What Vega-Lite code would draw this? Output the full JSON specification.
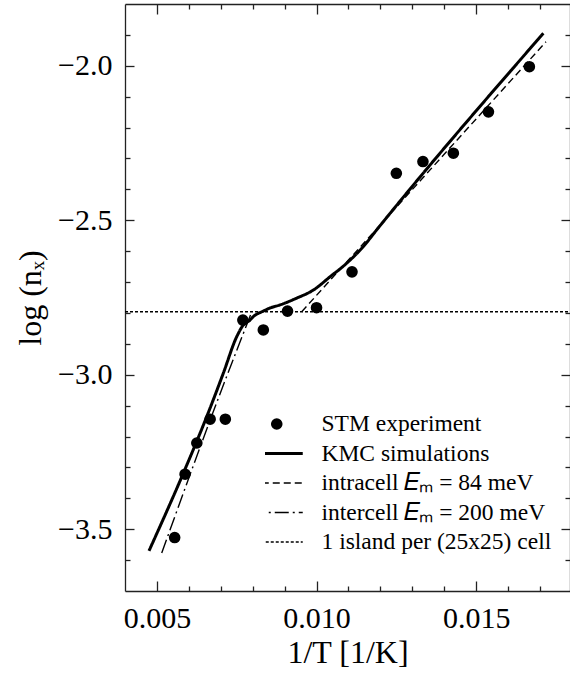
{
  "$schema": "https://vega.github.io/schema/vega-lite/v6.json",
  "width": 445,
  "height": 587,
  "autosize": {"type": "none"},
  "padding": {"left": 125, "top": 4, "right": 0, "bottom": 86},
  "background": "white",
  "config": {
    "font": "Liberation Serif",
    "view": {"stroke": null},
    "axis": {
      "grid": false,
      "domainColor": "#222",
      "tickColor": "#222",
      "domainWidth": 1.3,
      "tickWidth": 1.3,
      "labelColor": "black",
      "titleColor": "black",
      "labelFont": "Liberation Serif",
      "titleFont": "Liberation Serif",
      "labelFontSize": 30,
      "titleFontSize": 32,
      "titleFontWeight": "normal"
    }
  },
  "datasets": {
    "stm": [
      {"x": 0.005556, "y": -3.527},
      {"x": 0.005882, "y": -3.322},
      {"x": 0.00625, "y": -3.221},
      {"x": 0.006667, "y": -3.144},
      {"x": 0.007143, "y": -3.144},
      {"x": 0.007692, "y": -2.823},
      {"x": 0.008333, "y": -2.855},
      {"x": 0.009091, "y": -2.794},
      {"x": 0.01, "y": -2.783},
      {"x": 0.011111, "y": -2.667},
      {"x": 0.0125, "y": -2.348},
      {"x": 0.013333, "y": -2.31},
      {"x": 0.014286, "y": -2.283},
      {"x": 0.015385, "y": -2.149},
      {"x": 0.016667, "y": -2.003}
    ],
    "curves": [
      {"series": "KMC simulations", "x": 0.004752, "y": -3.57},
      {"series": "KMC simulations", "x": 0.005826, "y": -3.319},
      {"series": "KMC simulations", "x": 0.006559, "y": -3.136},
      {"series": "KMC simulations", "x": 0.00708, "y": -2.995},
      {"series": "KMC simulations", "x": 0.007499, "y": -2.877},
      {"series": "KMC simulations", "x": 0.007706, "y": -2.839},
      {"series": "KMC simulations", "x": 0.007916, "y": -2.823},
      {"series": "KMC simulations", "x": 0.008019, "y": -2.812},
      {"series": "KMC simulations", "x": 0.008333, "y": -2.794},
      {"series": "KMC simulations", "x": 0.008543, "y": -2.784},
      {"series": "KMC simulations", "x": 0.008856, "y": -2.774},
      {"series": "KMC simulations", "x": 0.009379, "y": -2.752},
      {"series": "KMC simulations", "x": 0.009899, "y": -2.726},
      {"series": "KMC simulations", "x": 0.010422, "y": -2.683},
      {"series": "KMC simulations", "x": 0.010945, "y": -2.639},
      {"series": "KMC simulations", "x": 0.011466, "y": -2.585},
      {"series": "KMC simulations", "x": 0.011885, "y": -2.531},
      {"series": "KMC simulations", "x": 0.017105, "y": -1.895},
      {"series": "intracell 𝐸ₘ = 84 meV", "x": 0.009536, "y": -2.796},
      {"series": "intracell 𝐸ₘ = 84 meV", "x": 0.017189, "y": -1.922},
      {"series": "intercell 𝐸ₘ = 200 meV", "x": 0.00515, "y": -3.577},
      {"series": "intercell 𝐸ₘ = 200 meV", "x": 0.006976, "y": -3.062},
      {"series": "intercell 𝐸ₘ = 200 meV", "x": 0.007969, "y": -2.797},
      {"series": "1 island per (25x25) cell", "x": 0.004, "y": -2.796},
      {"series": "1 island per (25x25) cell", "x": 0.01794, "y": -2.796}
    ]
  },
  "resolve": {"axis": {"x": "independent", "y": "independent"}},
  "layer": [
    {
      "data": {"name": "stm"},
      "mark": {"type": "point", "shape": "circle", "filled": true, "size": 135, "color": "black", "opacity": 1},
      "encoding": {
        "x": {
          "field": "x", "type": "quantitative",
          "scale": {"domain": [0.004, 0.01794], "nice": false, "zero": false},
          "axis": {"orient": "bottom", "values": [0.005, 0.01, 0.015], "format": ".3f", "tickSize": -10, "labelPadding": 22, "title": "1/T [1/K]", "titlePadding": 4}
        },
        "y": {
          "field": "y", "type": "quantitative",
          "scale": {"domain": [-3.7, -1.8], "nice": false, "zero": false},
          "axis": {"orient": "left", "values": [-3.5, -3, -2.5, -2], "format": ".1f", "tickSize": -9, "labelPadding": 22, "title": "log (nₓ)", "titlePadding": 10}
        }
      }
    },
    {
      "data": {"name": "curves"},
      "mark": {"type": "line", "color": "black", "interpolate": "monotone"},
      "encoding": {
        "x": {
          "field": "x", "type": "quantitative",
          "scale": {"domain": [0.004, 0.01794], "nice": false, "zero": false},
          "axis": {"orient": "bottom", "values": [0.006, 0.007, 0.008, 0.009, 0.011, 0.012, 0.013, 0.014, 0.016, 0.017], "tickSize": -5, "labels": false, "domain": false, "title": null}
        },
        "y": {
          "field": "y", "type": "quantitative",
          "scale": {"domain": [-3.7, -1.8], "nice": false, "zero": false},
          "axis": {"orient": "left", "values": [-3.6, -3.4, -3.3, -3.2, -3.1, -2.9, -2.8, -2.7, -2.6, -2.4, -2.3, -2.2, -2.1, -1.9], "tickSize": -5, "labels": false, "domain": false, "title": null}
        },
        "strokeDash": {
          "field": "series", "type": "nominal",
          "scale": {
            "domain": ["STM experiment", "KMC simulations", "intracell 𝐸ₘ = 84 meV", "intercell 𝐸ₘ = 200 meV", "1 island per (25x25) cell"],
            "range": [[1, 0], [1, 0], [7, 4], [14, 4, 2, 4], [3, 2]]
          },
          "legend": {
            "title": null,
            "orient": "none",
            "legendX": 140,
            "legendY": 408,
            "padding": 0,
            "symbolType": "stroke",
            "symbolSize": 2704,
            "clipHeight": 24,
            "rowPadding": 5.5,
            "labelOffset": 33,
            "labelFont": "Liberation Serif",
            "labelFontSize": 23.5,
            "labelColor": "black",
            "labelLimit": 400,
            "symbolStrokeColor": "black",
            "symbolStrokeWidth": 1.4,
            "encode": {
              "symbols": {
                "update": {
                  "shape": {"signal": "datum.value === 'STM experiment' ? 'circle' : 'stroke'"},
                  "size": {"signal": "datum.value === 'STM experiment' ? 135 : 2704"},
                  "fill": {"signal": "datum.value === 'STM experiment' ? 'black' : 'transparent'"},
                  "stroke": {"value": "black"},
                  "strokeWidth": {"signal": "datum.value === 'KMC simulations' ? 3 : (datum.value === 'STM experiment' ? 0 : 1.4)"}
                }
              }
            }
          }
        },
        "strokeWidth": {
          "condition": {"test": "datum.series === 'KMC simulations'", "value": 3},
          "value": 1.4
        }
      }
    },
    {
      "data": {"name": "stm"},
      "mark": {"type": "point", "opacity": 0},
      "encoding": {
        "x": {
          "field": "x", "type": "quantitative",
          "scale": {"domain": [0.004, 0.01794], "nice": false, "zero": false},
          "axis": {"orient": "top", "values": [0.005, 0.01, 0.015], "tickSize": -10, "labels": false, "title": null}
        },
        "y": {
          "field": "y", "type": "quantitative",
          "scale": {"domain": [-3.7, -1.8], "nice": false, "zero": false},
          "axis": {"orient": "right", "values": [-3.5, -3, -2.5, -2], "tickSize": -9, "labels": false, "title": null}
        }
      }
    },
    {
      "data": {"name": "stm"},
      "mark": {"type": "point", "opacity": 0},
      "encoding": {
        "x": {
          "field": "x", "type": "quantitative",
          "scale": {"domain": [0.004, 0.01794], "nice": false, "zero": false},
          "axis": {"orient": "top", "values": [0.006, 0.007, 0.008, 0.009, 0.011, 0.012, 0.013, 0.014, 0.016, 0.017], "tickSize": -5, "labels": false, "domain": false, "title": null}
        },
        "y": {
          "field": "y", "type": "quantitative",
          "scale": {"domain": [-3.7, -1.8], "nice": false, "zero": false},
          "axis": {"orient": "right", "values": [-3.6, -3.4, -3.3, -3.2, -3.1, -2.9, -2.8, -2.7, -2.6, -2.4, -2.3, -2.2, -2.1, -1.9], "tickSize": -5, "labels": false, "domain": false, "title": null}
        }
      }
    }
  ]
}
